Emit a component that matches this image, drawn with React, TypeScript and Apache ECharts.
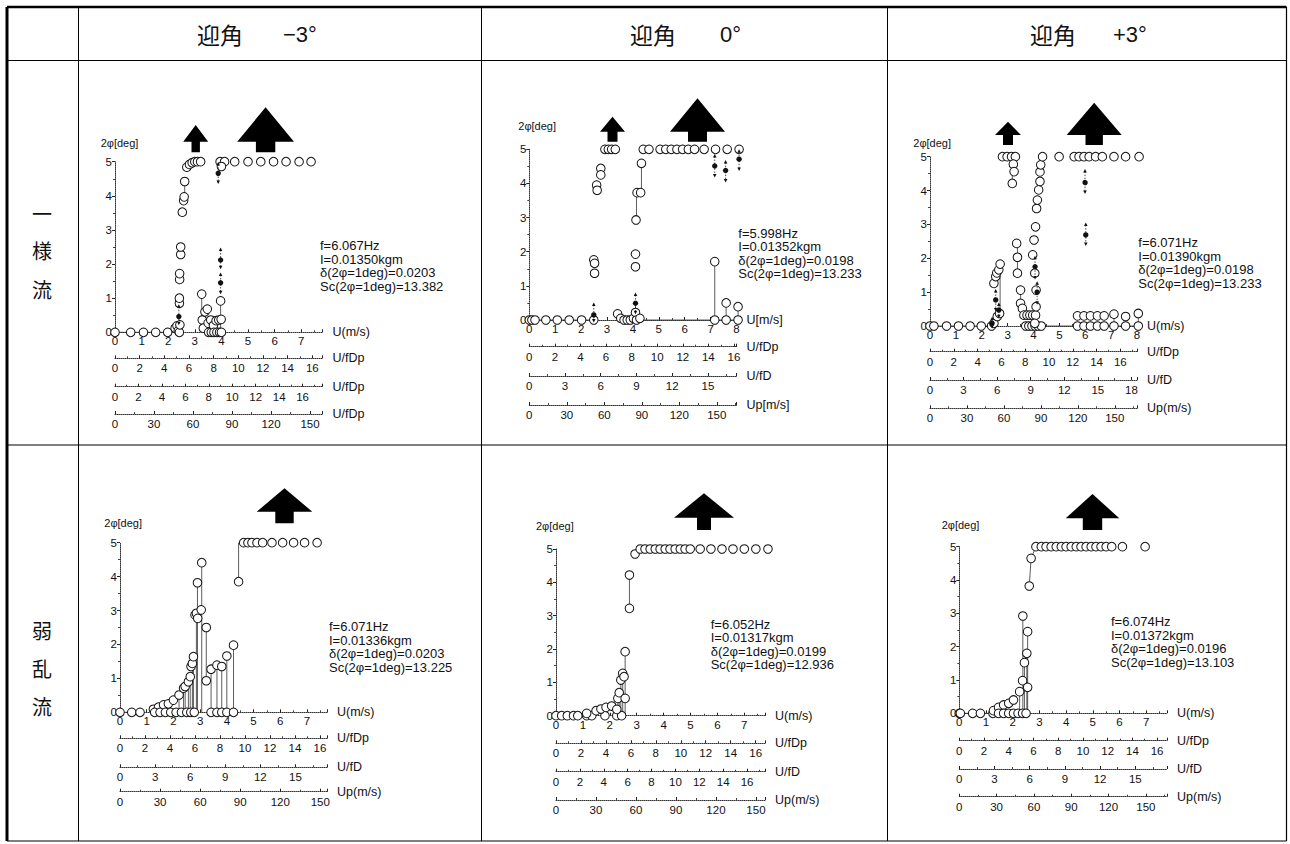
import React, { useEffect, useRef } from 'react';
import * as echarts from 'echarts';

const FONT = '"Liberation Sans", Arial, Helvetica, sans-serif';
const CJK = '"Noto Sans CJK JP", "Noto Sans CJK SC", sans-serif';

// ---------- texts ----------
const headerWord = '迎角';
const headerAngles = ['−3°', '0°', '+3°'];
const rowWords = [['一', '様', '流'], ['弱', '乱', '流']];
const yName = '2φ[deg]';

// ---------- tick labels ----------
const uTicks7 = [0, 1, 2, 3, 4, 5, 6, 7];
const uTicks8 = [0, 1, 2, 3, 4, 5, 6, 7, 8];
const fdpTicks = [0, 2, 4, 6, 8, 10, 12, 14, 16];
const fdTicks15 = [0, 3, 6, 9, 12, 15];
const fdTicks18 = [0, 3, 6, 9, 12, 15, 18];
const fdTicks16 = [0, 2, 4, 6, 8, 10, 12, 14, 16];
const upTicks = [0, 30, 60, 90, 120, 150];

// ---------- axis names ----------
const namesA = ['U(m/s)', 'U/fDp', 'U/fDp', 'U/fDp'];
const namesB = ['U[m/s]', 'U/fDp', 'U/fD', 'Up[m/s]'];
const namesC = ['U(m/s)', 'U/fDp', 'U/fD', 'Up(m/s)'];
const namesLow = ['U(m/s)', 'U/fDp', 'U/fD', 'Up(m/s)'];

// ---------- annotations ----------
const noteA = ['f=6.067Hz', 'I=0.01350kgm', 'δ(2φ=1deg)=0.0203', 'Sc(2φ=1deg)=13.382'];
const noteB = ['f=5.998Hz', 'I=0.01352kgm', 'δ(2φ=1deg)=0.0198', 'Sc(2φ=1deg)=13.233'];
const noteC = ['f=6.071Hz', 'I=0.01390kgm', 'δ(2φ=1deg)=0.0198', 'Sc(2φ=1deg)=13.233'];
const noteD = ['f=6.071Hz', 'I=0.01336kgm', 'δ(2φ=1deg)=0.0203', 'Sc(2φ=1deg)=13.225'];
const noteE = ['f=6.052Hz', 'I=0.01317kgm', 'δ(2φ=1deg)=0.0199', 'Sc(2φ=1deg)=12.936'];
const noteF = ['f=6.074Hz', 'I=0.01372kgm', 'δ(2φ=1deg)=0.0196', 'Sc(2φ=1deg)=13.103'];

// ---------- data ----------
// open circles: [U, 2phi] ; dark points: [U, 2phi, low, high] ; links: [U1, 2phi1, U2, 2phi2]
const openA = [
  [0, 0], [0.59, 0], [1.07, 0], [1.53, 0], [1.98, 0],
  [2.26, 0.12], [2.33, 0.19], [2.38, 0.05], [2.42, 0], [2.44, 0.22],
  [2.42, 0.85], [2.42, 1.0], [2.43, 1.55], [2.43, 1.72], [2.47, 2.28], [2.47, 2.5],
  [2.53, 3.52], [2.58, 3.86], [2.6, 3.97], [2.62, 4.42], [2.7, 4.84], [2.8, 4.92], [2.9, 4.97], [3.0, 5], [3.1, 5], [3.22, 5],
  [3.26, 1.12], [3.28, 0.36], [3.32, 0.12], [3.38, 0.6], [3.47, 0.68], [3.5, 0.27], [3.52, 0], [3.6, 0.36], [3.62, 0],
  [3.7, 0.2], [3.72, 0], [3.8, 0.34], [3.83, 0], [3.9, 0.36], [3.93, 0], [3.97, 0.92], [3.99, 0.38], [4.0, 0],
  [3.95, 5], [4.12, 5], [4.0, 4.86], [4.5, 5], [5.0, 5], [5.48, 5], [5.96, 5], [6.43, 5], [6.92, 5], [7.37, 5],
];
const darkA = [[2.4, 0.46, 0.28, 0.75], [3.97, 2.12, 1.92, 2.41], [3.97, 1.45, 1.19, 1.68], [3.88, 4.66, 4.42, 4.92]];
const linksA = [
  [0, 0, 2.42, 0],
  [2.62, 3.97, 2.62, 4.42], [3.26, 0.36, 3.26, 1.12], [3.97, 0, 3.97, 0.92], [2.42, 0, 2.42, 0.22], [2.47, 2.28, 2.47, 2.5], [3.38, 0.12, 3.38, 0.6],
];

const openB = [
  [0, 0], [0.1, 0], [0.22, 0], [0.64, 0], [1.08, 0], [1.54, 0], [2.02, 0], [2.49, 0],
  [2.49, 1.76], [2.52, 1.66], [2.52, 1.37], [2.6, 3.95], [2.62, 3.8], [2.76, 4.44], [2.76, 4.25],
  [2.92, 5], [3.05, 5], [3.18, 5], [3.32, 5],
  [3.41, 0.18], [3.53, 0.05], [3.66, 0], [3.78, 0], [3.9, 0], [4.02, 0.05], [4.1, 0.22], [4.14, 0], [4.27, 0.05],
  [4.12, 2.93], [4.1, 1.93], [4.1, 1.56], [4.16, 3.73], [4.3, 3.73], [4.33, 4.59],
  [4.4, 5], [4.62, 5], [5.05, 5], [5.27, 5], [5.48, 5], [5.7, 5], [5.92, 5], [6.14, 5], [6.38, 5], [6.75, 5], [7.19, 5], [7.64, 5], [8.1, 5],
  [7.16, 0], [7.16, 1.71], [7.6, 0], [7.6, 0.5], [8.06, 0], [8.06, 0.39],
];
const darkB = [[2.49, 0.15, 0, 0.44], [4.1, 0.49, 0.24, 0.73], [7.16, 4.51, 4.25, 4.79], [7.58, 4.38, 4.1, 4.61], [8.1, 4.71, 4.44, 4.93]];
const linksB = [
  [0, 0, 2.49, 0], [4.27, 0, 8.06, 0],
  [4.14, 2.93, 4.14, 3.73], [4.33, 3.73, 4.33, 4.59], [7.16, 0, 7.16, 1.71], [7.6, 0, 7.6, 0.5], [8.06, 0, 8.06, 0.39], [4.1, 0, 4.1, 0.49],
];

const openC = [
  [0, 0], [0.15, 0], [0.64, 0], [1.1, 0], [1.55, 0], [1.98, 0], [2.38, 0],
  [2.47, 0.08], [2.6, 0.28], [2.69, 0.37], [2.47, 1.26], [2.54, 1.46], [2.58, 1.57], [2.66, 1.66], [2.71, 1.83],
  [2.8, 5], [2.98, 5], [3.15, 5], [3.3, 5], [3.22, 4.78], [3.25, 4.56], [3.18, 4.21],
  [3.35, 2.44], [3.38, 2.03], [3.38, 1.56], [3.5, 1.06], [3.5, 0.67], [3.57, 0.52], [3.63, 0.32], [3.75, 0.32], [3.86, 0.32], [3.97, 0.32], [4.08, 0.32],
  [3.7, 0], [3.82, 0], [3.94, 0], [4.06, 0], [4.18, 0], [4.3, 0],
  [4.05, 0.08], [4.1, 0.57], [4.1, 1.06], [4.05, 1.56], [3.97, 2.1], [4.02, 2.54], [4.08, 2.93], [4.12, 3.47], [4.15, 3.72], [4.2, 4.02], [4.25, 4.27], [4.25, 4.55], [4.28, 4.76], [4.35, 5],
  [4.99, 5], [5.57, 5], [5.76, 5], [5.95, 5], [6.15, 5], [6.4, 5], [6.66, 5], [7.11, 5], [7.56, 5], [8.08, 5],
  [5.7, 0.3], [5.95, 0.3], [6.2, 0.3], [6.47, 0.3], [6.73, 0.3], [5.7, 0], [5.95, 0], [6.2, 0], [6.47, 0], [6.73, 0],
  [7.11, 0.35], [7.11, 0], [7.56, 0.28], [7.56, 0], [8.05, 0.37], [8.05, 0],
];
const darkC = [[2.54, 0.77, 0.5, 1.02], [2.66, 0.47, 0.3, 0.62], [4.06, 1.75, 1.45, 2.0], [4.14, 1.0, 0.7, 1.25], [5.99, 4.26, 3.97, 4.56], [6.02, 2.69, 2.44, 2.98], [2.4, 0.08, 0, 0.2]];
const linksC = [
  [0, 0, 2.38, 0], [4.3, 0, 8.05, 0],
  [3.18, 4.21, 3.18, 5], [3.38, 1.56, 3.38, 2.44], [3.5, 0.67, 3.5, 1.06], [7.11, 0, 7.11, 0.35], [7.56, 0, 7.56, 0.28], [8.05, 0, 8.05, 0.37], [2.71, 0.37, 2.71, 1.83],
];

const openD = [
  [0, 0], [0.44, 0], [0.75, 0],
  [1.25, 0.09], [1.44, 0.15], [1.63, 0.22], [1.81, 0.25], [2.0, 0.36], [2.21, 0.51], [2.38, 0.71], [2.44, 0.76], [2.56, 0.9], [2.63, 1.05], [2.66, 1.35], [2.71, 1.44], [2.75, 1.64],
  [1.3, 0], [1.5, 0], [1.7, 0], [1.9, 0], [2.1, 0], [2.3, 0], [2.5, 0], [2.65, 0], [2.78, 0],
  [2.81, 2.87], [2.86, 2.92], [2.91, 2.77], [2.9, 3.82], [3.04, 3.02], [3.06, 4.41],
  [3.23, 2.5], [3.23, 0.93],
  [3.41, 1.27], [3.63, 1.39], [3.81, 1.35], [4.0, 1.66], [4.25, 1.98],
  [3.41, 0], [3.63, 0], [3.81, 0], [4.0, 0], [4.25, 0],
  [4.44, 3.85], [4.63, 5], [4.79, 5], [4.94, 5], [5.13, 5], [5.34, 5], [5.69, 5], [6.09, 5], [6.5, 5], [6.91, 5], [7.38, 5],
];
const darkD: number[][] = [];
const linksD = [
  [0, 0, 0.75, 0],
  [2.21, 0, 2.21, 0.51], [2.38, 0, 2.38, 0.71], [2.44, 0, 2.44, 0.76], [2.56, 0, 2.56, 0.9], [2.63, 0, 2.63, 1.05], [2.71, 0, 2.71, 1.44], [2.75, 0, 2.75, 1.64],
  [2.86, 0, 2.86, 2.92], [2.9, 0, 2.9, 3.82], [3.06, 0, 3.06, 4.41], [3.23, 0.93, 3.23, 2.5], [3.41, 0, 3.41, 1.27], [3.63, 0, 3.63, 1.39], [3.81, 0, 3.81, 1.35],
  [4.0, 0, 4.0, 1.66], [4.25, 0, 4.25, 1.98], [4.44, 3.85, 4.44, 5],
];

const openE = [
  [0, 0], [0.21, 0], [0.42, 0], [0.65, 0], [0.81, 0], [1.14, 0], [1.33, 0], [1.82, 0], [2.26, 0], [2.44, 0],
  [1.14, 0.07], [1.49, 0.15], [1.67, 0.2], [1.86, 0.25], [2.07, 0.29], [2.26, 0.19], [2.3, 0.52], [2.35, 0.69], [2.41, 1.07],
  [2.48, 1.27], [2.53, 1.17], [2.57, 1.92], [2.57, 0.52], [2.73, 3.22], [2.73, 4.22], [2.94, 4.85],
  [3.13, 5], [3.31, 5], [3.5, 5], [3.69, 5], [3.87, 5], [4.06, 5], [4.24, 5], [4.43, 5], [4.62, 5], [4.8, 5], [4.99, 5],
  [5.36, 5], [5.76, 5], [6.17, 5], [6.58, 5], [7.0, 5], [7.43, 5], [7.88, 5],
];
const darkE: number[][] = [];
const linksE = [
  [0, 0, 1.33, 0],
  [2.57, 0, 2.57, 1.92], [2.73, 3.22, 2.73, 4.22], [2.3, 0, 2.3, 0.52], [2.35, 0, 2.35, 0.69], [2.41, 0, 2.41, 1.07], [2.48, 0, 2.48, 1.27], [2.94, 4.85, 3.13, 5],
];

const openF = [
  [0, 0], [0.04, 0], [0.5, 0], [0.79, 0], [1.26, 0],
  [1.28, 0.08], [1.47, 0.18], [1.66, 0.25], [1.85, 0.3], [2.03, 0.4], [2.26, 0.65], [2.37, 0.98], [2.38, 2.92], [2.44, 1.52],
  [2.53, 1.8], [2.56, 2.45], [2.56, 0.78], [2.62, 3.82], [2.69, 4.65],
  [1.47, 0], [1.66, 0], [1.85, 0], [2.03, 0], [2.2, 0], [2.37, 0], [2.5, 0],
  [2.87, 5], [3.07, 5], [3.25, 5], [3.44, 5], [3.63, 5], [3.82, 5], [4.0, 5], [4.19, 5], [4.38, 5], [4.56, 5], [4.75, 5],
  [4.94, 5], [5.12, 5], [5.31, 5], [5.5, 5], [5.71, 5], [6.11, 5], [6.96, 5],
];
const darkF: number[][] = [];
const linksF = [
  [0, 0, 1.26, 0],
  [2.38, 0, 2.38, 2.92], [2.56, 0, 2.56, 2.45], [2.26, 0, 2.26, 0.65], [2.44, 0, 2.44, 1.52], [2.53, 0, 2.53, 1.8], [2.62, 3.82, 2.69, 4.65], [2.69, 4.65, 2.87, 5],
];

// ---------- panel layout ----------
const panels = [
  { grid: { left: 115, top: 161.7, width: 207.5, height: 170.6 }, maxes: [7.8, 16.83, 17.7, 159.6], intervals: [1, 2, 2, 30],
    ticks: [uTicks7, fdpTicks, fdpTicks, upTicks], offsets: [0, 26, 54.4, 81.7], names: namesA,
    open: openA, dark: darkA, links: linksA, note: noteA, notePos: [320, 245.7], yNamePos: [100.7, 143] },
  { grid: { left: 529.3, top: 149.3, width: 207.2, height: 170.7 }, maxes: [8, 16.2, 17.4, 165.8], intervals: [1, 2, 3, 30],
    ticks: [uTicks8, fdpTicks, fdTicks15, upTicks], offsets: [0, 26.7, 56, 85], names: namesB,
    open: openB, dark: darkB, links: linksB, note: noteB, notePos: [738.3, 233.3], yNamePos: [518.3, 126] },
  { grid: { left: 930, top: 156.7, width: 207, height: 169.3 }, maxes: [8, 17.4, 18.5, 168], intervals: [1, 2, 3, 30],
    ticks: [uTicks8, fdpTicks, fdTicks18, upTicks], offsets: [0, 25.7, 54, 82.3], names: namesC,
    open: openC, dark: darkC, links: linksC, note: noteC, notePos: [1138.3, 242.7], yNamePos: [913.3, 143.3] },
  { grid: { left: 120, top: 542.7, width: 207, height: 169.6 }, maxes: [7.75, 16.56, 17.7, 155], intervals: [1, 2, 3, 30],
    ticks: [uTicks7, fdpTicks, fdTicks15, upTicks], offsets: [0, 26, 55, 79.4], names: namesLow,
    open: openD, dark: darkD, links: linksD, note: noteD, notePos: [329, 626.7], yNamePos: [104.3, 523.3] },
  { grid: { left: 556, top: 549, width: 209, height: 166.7 }, maxes: [7.77, 16.75, 17.5, 156.8], intervals: [1, 2, 2, 30],
    ticks: [uTicks7, fdpTicks, fdTicks16, upTicks], offsets: [0, 27.6, 56, 84.3], names: namesLow,
    open: openE, dark: darkE, links: linksE, note: noteE, notePos: [710.7, 624], yNamePos: [536, 526] },
  { grid: { left: 959.3, top: 546.7, width: 207.7, height: 166.6 }, maxes: [7.78, 16.8, 17.7, 167], intervals: [1, 2, 3, 30],
    ticks: [uTicks7, fdpTicks, fdTicks15, upTicks], offsets: [0, 27.4, 55.7, 83.4], names: namesLow,
    open: openF, dark: darkF, links: linksF, note: noteF, notePos: [1111, 621.7], yNamePos: [941.7, 525] },
];

// arrows: [apexX, apexY, baseY, headHalf, stemHalf, bottomY]
const arrows = [
  [195.7, 125, 141.7, 12.5, 4.2, 152.3], [265.6, 107.3, 141.7, 28.4, 9.7, 152.3],
  [612.5, 116.7, 131.7, 12.5, 5, 141.7], [697.5, 98.3, 131.7, 27.5, 9.5, 141.7],
  [1008, 121.7, 135, 13, 5, 145], [1094.2, 102.7, 135, 27.5, 8.7, 145],
  [284.5, 488.3, 511.7, 27.8, 9.2, 523.3],
  [704, 493.3, 517.7, 30, 7, 530],
  [1092.5, 494, 518.3, 26.8, 9.7, 530],
];

const INK = '#111';

function makeX(gridIndex: number, max: number, interval: number, labels: number[], name: string, offset: number, main: boolean) {
  return {
    type: 'value', gridIndex, min: 0, max, interval, position: 'bottom', offset,
    name, nameLocation: 'end', nameGap: 10,
    nameTextStyle: { fontFamily: FONT, fontSize: 12.5, color: INK, verticalAlign: 'middle' },
    axisLine: { show: true, onZero: false, lineStyle: { color: '#333', width: 1, type: 'dotted' } },
    axisTick: { show: true, inside: true, length: 3, lineStyle: { color: '#222', width: 1 } },
    minorTick: { show: true, splitNumber: 2, length: 2, lineStyle: { color: '#444', width: 1 } },
    axisLabel: {
      show: true, margin: main ? 3 : 4, fontFamily: FONT, fontSize: 11.5, color: INK,
      formatter: (v: number) => (labels.some((l) => Math.abs(l - v) < 1e-6) ? String(Math.round(v)) : ''),
    },
    splitLine: { show: false },
    minorSplitLine: { show: false },
  };
}

function makeY(gridIndex: number) {
  return {
    type: 'value', gridIndex, min: 0, max: 5, interval: 1, position: 'left',
    axisLine: { show: true, onZero: false, lineStyle: { color: '#333', width: 1, type: 'dotted' } },
    axisTick: { show: true, inside: false, length: 3, lineStyle: { color: '#222', width: 1 } },
    minorTick: { show: true, splitNumber: 2, length: 2, lineStyle: { color: '#444', width: 1 } },
    axisLabel: { margin: 3, fontFamily: FONT, fontSize: 11.5, color: INK },
    splitLine: { show: false },
    minorSplitLine: { show: false },
  };
}

function buildOption() {
  const grid: any[] = [];
  const xAxis: any[] = [];
  const yAxis: any[] = [];
  const series: any[] = [];
  const graphic: any[] = [];

  panels.forEach((p, i) => {
    grid.push({ ...p.grid, containLabel: false });
    for (let k = 0; k < 4; k++) {
      xAxis.push(makeX(i, p.maxes[k], p.intervals[k], p.ticks[k], p.names[k], p.offsets[k], k === 0));
    }
    yAxis.push(makeY(i));
    const xi = i * 4;
    series.push({
      type: 'custom', xAxisIndex: xi, yAxisIndex: i, data: p.links, clip: false, silent: true, z: 1,
      encode: { x: [0, 2], y: [1, 3] },
      renderItem: (_params: any, api: any) => {
        const a = api.coord([api.value(0), api.value(1)]);
        const b = api.coord([api.value(2), api.value(3)]);
        return { type: 'line', shape: { x1: a[0], y1: a[1], x2: b[0], y2: b[1] }, style: { stroke: '#333', lineWidth: 0.8 } };
      },
    });
    series.push({
      type: 'scatter', xAxisIndex: xi, yAxisIndex: i, data: p.open, clip: false, silent: true, z: 2,
      symbol: 'circle', symbolSize: 8.6,
      itemStyle: { color: '#fff', borderColor: INK, borderWidth: 1, opacity: 1 },
    });
    if (p.dark.length) {
      series.push({
        type: 'custom', xAxisIndex: xi, yAxisIndex: i, data: p.dark, clip: false, silent: true, z: 3,
        encode: { x: 0, y: [1, 2, 3] },
        renderItem: (_params: any, api: any) => {
          const c = api.coord([api.value(0), api.value(1)]);
          const lo = api.coord([api.value(0), api.value(2)]);
          const hi = api.coord([api.value(0), api.value(3)]);
          const x = c[0];
          return {
            type: 'group',
            children: [
              { type: 'line', shape: { x1: x, y1: hi[1], x2: x, y2: lo[1] }, style: { stroke: '#222', lineWidth: 0.8, lineDash: [1.5, 1.5] } },
              { type: 'polygon', shape: { points: [[x, hi[1] - 2.5], [x - 1.8, hi[1] + 1], [x + 1.8, hi[1] + 1]] }, style: { fill: '#111' } },
              { type: 'polygon', shape: { points: [[x, lo[1] + 2.5], [x - 1.8, lo[1] - 1], [x + 1.8, lo[1] - 1]] }, style: { fill: '#111' } },
              { type: 'circle', shape: { cx: x, cy: c[1], r: 2.7 }, style: { fill: '#111' } },
            ],
          };
        },
      });
    }
    graphic.push({
      type: 'text', x: p.yNamePos[0], y: p.yNamePos[1],
      style: { text: yName, fontFamily: FONT, fontSize: 11, fill: INK, align: 'left', verticalAlign: 'middle' },
    });
    graphic.push({
      type: 'text', x: p.notePos[0], y: p.notePos[1] - 6.75,
      style: { text: p.note.join('\n'), fontFamily: FONT, fontSize: 13, lineHeight: 13.5, fill: INK, align: 'left', verticalAlign: 'top' },
    });
  });

  arrows.forEach(([ax, ay, by, hh, sh, bot]) => {
    graphic.push({
      type: 'polygon',
      shape: { points: [[ax, ay], [ax + hh, by], [ax + sh, by], [ax + sh, bot], [ax - sh, bot], [ax - sh, by], [ax - hh, by]] },
      style: { fill: '#000' },
    });
  });

  // table frame
  const L = 7, R = 1286.5, T = 7, B = 841;
  const hline = (y: number, w: number) => ({ type: 'line', shape: { x1: L, y1: y, x2: R, y2: y }, style: { stroke: '#000', lineWidth: w } });
  const vline = (x: number, w: number) => ({ type: 'line', shape: { x1: x, y1: T, x2: x, y2: B }, style: { stroke: '#000', lineWidth: w } });
  graphic.push(hline(T, 2.5), hline(60.5, 1.2), hline(445, 1.2), hline(B, 1.2));
  graphic.push(vline(L, 3), vline(78.5, 1), vline(481.5, 1), vline(887.5, 1), vline(R, 1.2));

  // header texts
  const headerPos = [[197, 283], [630, 720], [1030, 1113]];
  headerPos.forEach(([wx, angx], i) => {
    graphic.push({ type: 'text', x: wx, y: 34, style: { text: headerWord, fontFamily: CJK, fontSize: 23, fill: INK, align: 'left', verticalAlign: 'middle' } });
    graphic.push({ type: 'text', x: angx, y: 34, style: { text: headerAngles[i], fontFamily: FONT, fontSize: 22, fill: INK, align: 'left', verticalAlign: 'middle' } });
  });
  const rowYs = [[213, 250, 289], [630, 668, 706]];
  rowWords.forEach((words, r) => {
    words.forEach((w, j) => {
      graphic.push({ type: 'text', x: 42, y: rowYs[r][j], style: { text: w, fontFamily: CJK, fontSize: 20, fill: INK, align: 'center', verticalAlign: 'middle' } });
    });
  });

  return { animation: false, backgroundColor: '#fff', grid, xAxis, yAxis, series, graphic };
}

export default function App() {
  const ref = useRef<HTMLDivElement>(null);
  useEffect(() => {
    document.body.style.margin = '0';
    if (!ref.current) return;
    const chart = echarts.init(ref.current, undefined, { renderer: 'svg' });
    chart.setOption(buildOption() as any);
    return () => chart.dispose();
  }, []);
  return <div ref={ref} style={{ position: 'absolute', left: 0, top: 0, width: 1290, height: 844, background: '#fff' }} />;
}
